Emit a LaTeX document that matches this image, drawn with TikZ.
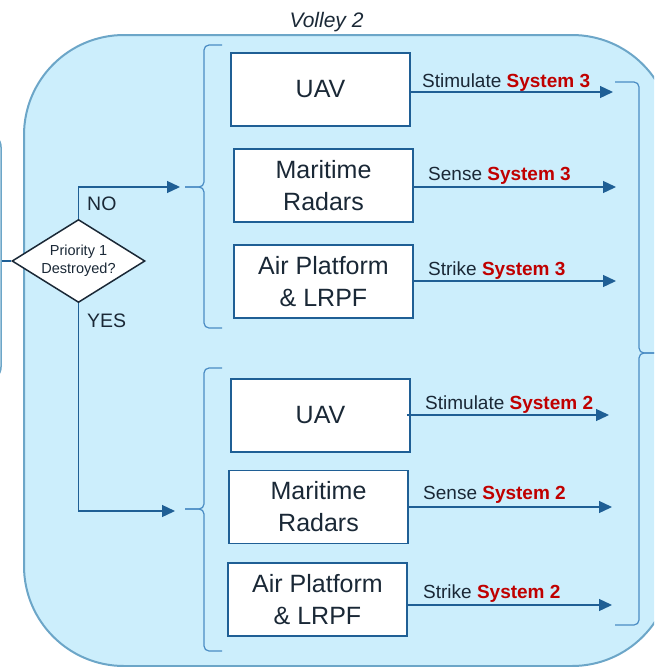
\documentclass[tikz,border=0pt]{standalone}
\usepackage{fontspec}
\setmainfont{Liberation Sans}
\usetikzlibrary{shapes.geometric,arrows.meta}
\definecolor{panelfill}{HTML}{CCEEFC}
\definecolor{panelline}{HTML}{6CA6C8}
\definecolor{linkblue}{HTML}{1F5F95}
\definecolor{bracecol}{HTML}{4A8CC4}
\definecolor{inktext}{HTML}{1A2836}
\definecolor{sysred}{HTML}{C00000}
\newcommand{\sysname}[1]{\textbf{\color{sysred}#1}}
\begin{document}
\begin{tikzpicture}[x=1pt,y=-1pt,
  asset/.style={draw=linkblue, line width=1.8pt, fill=white,
    minimum width=179pt, minimum height=73pt, inner sep=0pt,
    align=center, text=inktext, font=\fontsize{25}{32}\selectfont},
  conn/.style={draw=linkblue, line width=1.3pt},
  arr/.style={conn, -{Triangle[length=13pt,width=12pt]}},
  lbl/.style={anchor=base west, inner sep=0pt, text=inktext,
    font=\fontsize{19}{22}\selectfont},
  answer/.style={anchor=west, inner sep=0pt, text=inktext,
    font=\fontsize{19.5}{22}\selectfont},
  brc/.style={draw=bracecol, line width=1.2pt, rounded corners=5pt},
]
\useasboundingbox (0,0) rectangle (654,667);
\begin{scope}
\clip (0,0) rectangle (654,667);

% volley panel
\draw[panelline, line width=2pt, fill=panelfill, rounded corners=100pt]
  (24,35) rectangle (672,666);
\node[anchor=base, inner sep=0pt, text=inktext,
  font=\fontsize{21}{24}\selectfont\itshape] (title) at (326.5,27) {Volley 2};

% previous stage, cut off at the left
\node[draw=panelline, line width=1.5pt, rounded corners=14pt,
  minimum width=80pt, minimum height=248pt] (prev) at (-39,257) {};

% decision
\node[diamond, draw=inktext, line width=1.5pt, fill=white, aspect=1.6,
  inner sep=0pt, minimum width=133pt, minimum height=83pt, align=center,
  text=inktext, font=\fontsize{14.5}{18}\selectfont]
  (dec) at (78.5,261) {Priority 1\\Destroyed?};
\draw[conn] (prev.east |- dec.west) -- (dec.west);

\coordinate (tno) at (180,187);
\coordinate (tyes) at (175,511);
\draw[arr] (dec.north) |- (tno);
\draw[arr] (dec.south) |- (tyes);
\node[answer] (no) at (87,204) {NO};
\node[answer] (yes) at (87,321) {YES};

% braces
\draw[brc] (222,45) -- (204,45) -- (204,187) -- (185,187);
\draw[brc] (185,187) -- (204,187) -- (204,328) -- (222,328);
\draw[brc] (222,368) -- (204,368) -- (204,509) -- (185,509);
\draw[brc] (185,509) -- (204,509) -- (204,651) -- (222,651);
\draw[brc] (615,82) -- (639,82) -- (639,353) -- (662,353);
\draw[brc] (662,353) -- (639,353) -- (639,625) -- (615,625);

% System 3 branch
\node[asset] (uav3) at (320.5,89.5) {UAV};
\node[asset] (rad3) at (323.5,185.5) {Maritime\\Radars};
\node[asset] (air3) at (323.5,281.5) {Air Platform\\\& LRPF};

\coordinate (s3a) at (613,92);
\coordinate (s3b) at (616,187);
\coordinate (s3c) at (616,281);
\draw[arr] (uav3.east |- s3a) -- (s3a);
\draw[arr] (rad3.east |- s3b) -- (s3b);
\draw[arr] (air3.east |- s3c) -- (s3c);
\node[lbl] (l3a) at (422,87) {Stimulate \sysname{System 3}};
\node[lbl] (l3b) at (428,180) {Sense \sysname{System 3}};
\node[lbl] (l3c) at (428,275) {Strike \sysname{System 3}};

% System 2 branch
\node[asset] (uav2) at (320.5,415.5) {UAV};
\node[asset] (rad2) at (318.5,507) {Maritime\\Radars};
\node[asset] (air2) at (317.5,599.5) {Air Platform\\\& LRPF};

\coordinate (s2a) at (609,415);
\coordinate (s2b) at (612,507);
\coordinate (s2c) at (612,605);
\draw[arr] ([xshift=-4pt]uav2.east |- s2a) -- (s2a);
\draw[arr] (rad2.east |- s2b) -- (s2b);
\draw[arr] (air2.east |- s2c) -- (s2c);
\node[lbl] (l2a) at (425,409) {Stimulate \sysname{System 2}};
\node[lbl] (l2b) at (423,499) {Sense \sysname{System 2}};
\node[lbl] (l2c) at (423,598) {Strike \sysname{System 2}};
\end{scope}
\end{tikzpicture}
\end{document}
